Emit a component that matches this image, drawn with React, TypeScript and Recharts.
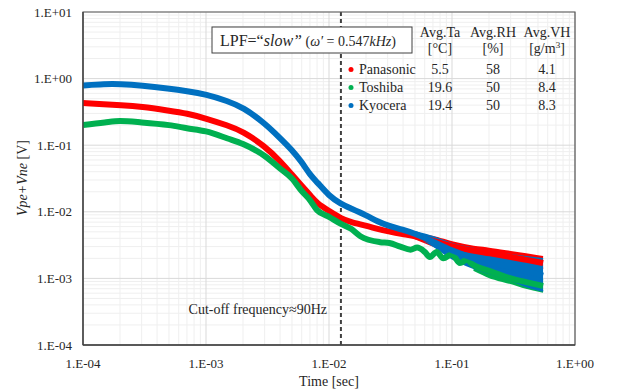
import React from "react";
import { ComposedChart, Line, Area, XAxis, YAxis, CartesianGrid, ReferenceArea } from "recharts";

// time axis [sec] shared by Panasonic / Kyocera
const times = [
  1e-4, 1.5e-4, 2e-4, 3e-4, 5e-4, 7e-4, 1e-3, 1.5e-3, 2e-3, 3e-3, 4e-3, 5e-3,
  6e-3, 7e-3, 8e-3, 1e-2, 1.25e-2, 1.5e-2, 2e-2, 2.5e-2, 3e-2, 4e-2, 5e-2, 7e-2,
  0.1, 0.15, 0.2, 0.3, 0.4, 0.55,
];
const panasonic = [
  0.43, 0.41, 0.4, 0.38, 0.33, 0.3, 0.252, 0.198, 0.161, 0.097, 0.058, 0.036,
  0.0244, 0.0179, 0.0134, 0.0103, 0.0079, 0.007, 0.0062, 0.0055, 0.0051, 0.0046,
  0.0043, 0.0037, 0.003, 0.0026, 0.0024, 0.0021, 0.0019, 0.0017,
];
const kyocera = [
  0.79, 0.83, 0.83, 0.79, 0.71, 0.65, 0.58, 0.46, 0.37, 0.215, 0.128, 0.085,
  0.056, 0.036, 0.028, 0.0173, 0.0131, 0.0113, 0.0089, 0.0071, 0.0062, 0.0054,
  0.0047, 0.0036, 0.0026, 0.002, 0.0017, 0.0015, 0.0013, 0.0011,
];

// Toshiba has its own sampling (wiggles in the tail)
const toshibaTimes = [
  1e-4, 1.5e-4, 2e-4, 3e-4, 5e-4, 7e-4, 1e-3, 1.5e-3, 2e-3, 3e-3, 4e-3, 5e-3,
  6e-3, 7e-3, 8e-3, 1e-2, 1.25e-2, 1.5e-2, 0.018, 0.026, 0.031, 0.038, 0.046,
  0.052, 0.06, 0.066, 0.075, 0.085, 0.1, 0.116, 0.132, 0.148, 0.2, 0.3, 0.4,
  0.55,
];
const toshiba = [
  0.2, 0.22, 0.23, 0.22, 0.2, 0.18, 0.161, 0.126, 0.104, 0.0688, 0.0447, 0.0316,
  0.0205, 0.015, 0.0106, 0.0084, 0.0066, 0.0056, 0.0043, 0.0035, 0.0034, 0.003,
  0.0027, 0.0029, 0.0025, 0.0021, 0.0025, 0.002, 0.0023, 0.0017, 0.0019, 0.0016,
  0.0013, 0.001, 0.00088, 0.00077,
];

// noisy spread of the tails
const bandTimes = [0.05, 0.07, 0.1, 0.15, 0.2, 0.3, 0.4, 0.55];
const panasonicLow = [0.004, 0.0031, 0.0024, 0.0021, 0.0019, 0.0017, 0.0016, 0.0014];
const panasonicHigh = [0.0046, 0.0042, 0.0035, 0.003, 0.0028, 0.0025, 0.0023, 0.0021];
const kyoceraLow = [0.0044, 0.0031, 0.002, 0.00143, 0.0012, 0.00095, 0.00077, 0.00065];
const kyoceraHigh = [0.005, 0.0042, 0.0033, 0.0028, 0.0025, 0.00225, 0.0021, 0.00196];
const toshibaBandTimes = [0.15, 0.2, 0.3, 0.4, 0.55];
const toshibaLow = [0.00134, 0.00105, 0.00085, 0.00072, 0.00063];
const toshibaHigh = [0.00189, 0.00153, 0.00125, 0.00109, 0.00095];

const xTicks = [1e-4, 1e-3, 1e-2, 1e-1, 1];
const yTicks = [1e-4, 1e-3, 1e-2, 1e-1, 1, 10];
const cutoff = 0.0125;

// legend table
const names = ["Panasonic", "Toshiba", "Kyocera"];
const avgTa = ["5.5", "19.6", "19.4"];
const avgRh = ["58", "50", "50"];
const avgVh = ["4.1", "8.4", "8.3"];
const colors = ["#FF0000", "#00B050", "#0070C0"];

const FONT = "'Liberation Serif', 'Times New Roman', serif";

// plot box in pixels (used for grid lines only)
const PL = 83, PR = 575, PT = 12, PB = 345;
const px = (v: number) => PL + ((Math.log10(v) + 4) / 4) * (PR - PL);
const py = (v: number) => PT + ((1 - Math.log10(v)) / 5) * (PB - PT);

const fmt = (v: number) => {
  const e = Math.round(Math.log10(v));
  return `1.E${e < 0 ? "-" : "+"}${String(Math.abs(e)).padStart(2, "0")}`;
};

const mant = [2, 3, 4, 5, 6, 7, 8, 9];
const minorX = [-4, -3, -2, -1].flatMap((d) => mant.map((m) => px(m * Math.pow(10, d))));
const minorY = [-4, -3, -2, -1, 0].flatMap((d) => mant.map((m) => py(m * Math.pow(10, d))));

const toRows = (ts: number[], vs: number[]) => ts.map((t, i) => ({ t, v: vs[i] }));
const toBand = (ts: number[], lo: number[], hi: number[]) =>
  ts.map((t, i) => ({ t, range: [lo[i], hi[i]] }));

export default function App() {
  const tick = { fontFamily: FONT, fontSize: 13, fill: "#262626" };
  const band = (ts: number[], lo: number[], hi: number[], c: string) => (
    <Area
      data={toBand(ts, lo, hi)}
      dataKey="range"
      type="monotone"
      stroke={c}
      strokeWidth={2}
      fill={c}
      fillOpacity={1}
      dot={false}
      activeDot={false}
      isAnimationActive={false}
    />
  );
  const line = (ts: number[], vs: number[], c: string, curve: "basis" | "monotone") => (
    <Line
      data={toRows(ts, vs)}
      dataKey="v"
      type={curve}
      stroke={c}
      strokeWidth={6}
      dot={false}
      activeDot={false}
      isAnimationActive={false}
    />
  );
  return (
    <div style={{ position: "absolute", left: 0, top: 0, width: 617, height: 389, background: "#fff" }}>
      <ComposedChart width={617} height={389} margin={{ top: 12, right: 42, bottom: 0, left: 0 }}>
        <CartesianGrid stroke="#efefef" verticalPoints={minorX} horizontalPoints={minorY} />
        <CartesianGrid stroke="#d9d9d9" />
        <CartesianGrid
          horizontal={false}
          verticalPoints={[px(cutoff)]}
          stroke="#404040"
          strokeWidth={2}
          strokeDasharray="4 3"
        />
        <XAxis
          dataKey="t"
          type="number"
          scale="log"
          domain={[1e-4, 1]}
          ticks={xTicks}
          tickFormatter={fmt}
          allowDataOverflow
          height={44}
          tick={tick}
          tickSize={0}
          tickMargin={14}
          axisLine={{ stroke: "#404040", strokeWidth: 1.3 }}
        />
        <YAxis
          dataKey="v"
          type="number"
          scale="log"
          domain={[1e-4, 10]}
          ticks={yTicks}
          tickFormatter={fmt}
          allowDataOverflow
          width={83}
          tick={tick}
          tickSize={0}
          tickMargin={11}
          axisLine={{ stroke: "#404040", strokeWidth: 1.3 }}
        />
        <ReferenceArea x1={1e-4} x2={1} y1={1e-4} y2={10} fill="none" stroke="#595959" strokeWidth={1.2} />
        {band(bandTimes, panasonicLow, panasonicHigh, colors[0])}
        {line(times, panasonic, colors[0], "basis")}
        {band(toshibaBandTimes, toshibaLow, toshibaHigh, colors[1])}
        {line(toshibaTimes, toshiba, colors[1], "monotone")}
        {band(bandTimes, kyoceraLow, kyoceraHigh, colors[2])}
        {line(times, kyocera, colors[2], "basis")}
      </ComposedChart>

      <svg
        width={617}
        height={389}
        style={{ position: "absolute", left: 0, top: 0, pointerEvents: "none" }}
        fontFamily={FONT}
        fill="#262626"
      >
        <text transform="translate(22,178) rotate(-90)" textAnchor="middle" dominantBaseline="central" fontSize={14}>
          <tspan fontStyle="italic">Vpe+Vne</tspan> [V]
        </text>
        <text x={329} y={386} textAnchor="middle" fontSize={14}>
          Time [sec]
        </text>

        <rect x={212} y={27} width={200} height={26} fill="#fff" stroke="#404040" strokeWidth={1} />
        <text x={220} y={46} fontSize={16}>
          LPF=“<tspan fontStyle="italic">slow”</tspan>
          <tspan fontSize={14}> (</tspan>
          <tspan fontSize={14} fontStyle="italic">ω′</tspan>
          <tspan fontSize={14}> = 0.547</tspan>
          <tspan fontSize={14} fontStyle="italic">kHz</tspan>
          <tspan fontSize={14}>)</tspan>
        </text>

        <g fontSize={14} textAnchor="middle">
          <text x={440} y={37}>Avg.Ta</text>
          <text x={440} y={53}>[°C]</text>
          <text x={493} y={37}>Avg.RH</text>
          <text x={493} y={53}>[%]</text>
          <text x={547} y={37}>Avg.VH</text>
          <text x={547} y={53}>
            [g/m<tspan fontSize={9} dy={-5}>3</tspan>
            <tspan dy={5}>]</tspan>
          </text>
        </g>
        {names.map((n, i) => {
          const y = 74 + i * 18;
          return (
            <g key={n} fontSize={14}>
              <circle cx={351} cy={y - 4.5} r={2.5} fill={colors[i]} />
              <text x={359} y={y}>{n}</text>
              <text x={440} y={y} textAnchor="middle">{avgTa[i]}</text>
              <text x={493} y={y} textAnchor="middle">{avgRh[i]}</text>
              <text x={547} y={y} textAnchor="middle">{avgVh[i]}</text>
            </g>
          );
        })}

        <text x={327} y={314} textAnchor="end" fontSize={14}>
          Cut-off frequency≈90Hz
        </text>
      </svg>
    </div>
  );
}
